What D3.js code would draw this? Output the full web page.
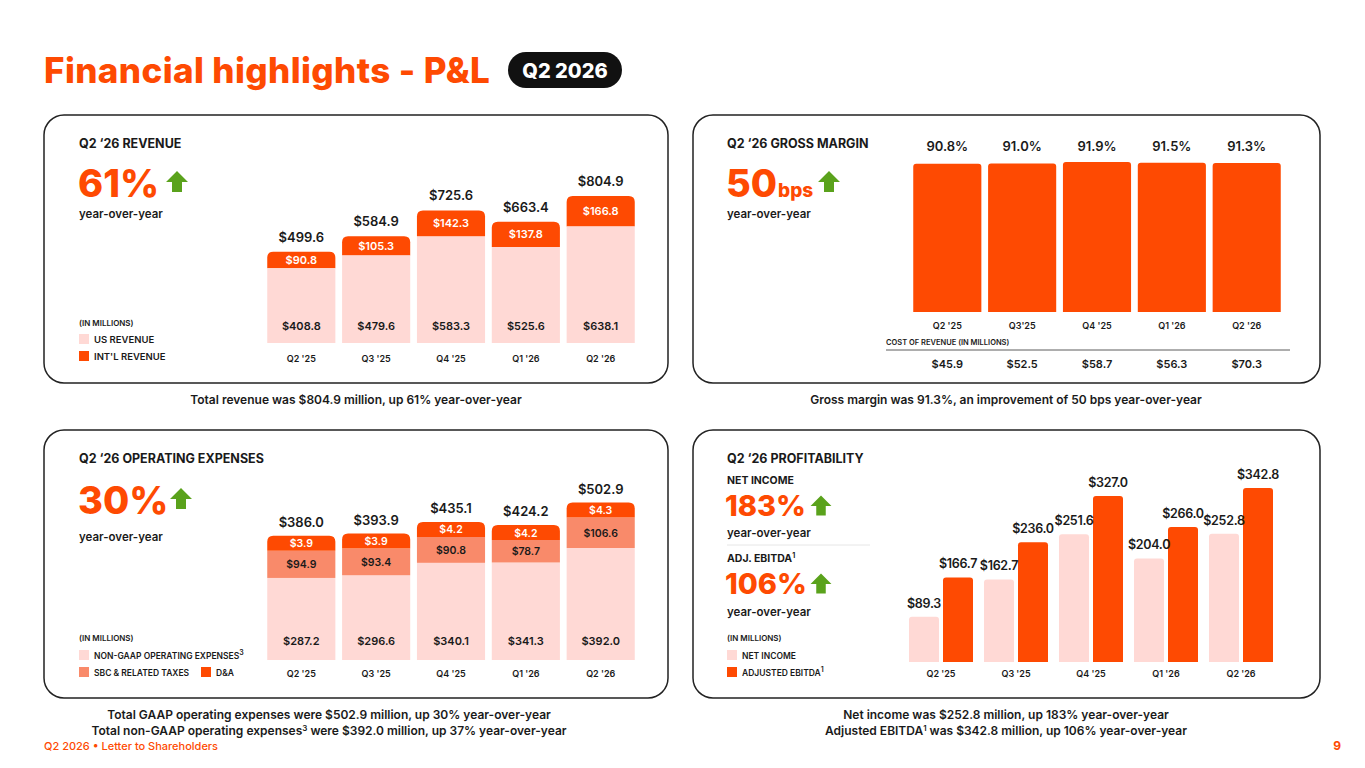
<!DOCTYPE html>
<html><head><meta charset="utf-8">
<script src="https://cdn.jsdelivr.net/npm/d3@7"></script>
<style>body{margin:0;background:#fff}svg{display:block;font-family:Inter,"Open Sans",sans-serif}</style>
</head><body>
<svg id="c" width="1365" height="768"></svg>
<script>
const quarters=["Q2 '25","Q3 '25","Q4 '25","Q1 '26","Q2 '26"];
const gmQuarters=["Q2 '25","Q3'25","Q4 '25","Q1 '26","Q2 '26"];
const usRevenue=[408.8,479.6,583.3,525.6,638.1];
const intlRevenue=[90.8,105.3,142.3,137.8,166.8];
const totalRevenue=[499.6,584.9,725.6,663.4,804.9];
const grossMargin=[90.8,91.0,91.9,91.5,91.3];
const costOfRevenue=[45.9,52.5,58.7,56.3,70.3];
const nonGaapOpex=[287.2,296.6,340.1,341.3,392.0];
const sbc=[94.9,93.4,90.8,78.7,106.6];
const da=[3.9,3.9,4.2,4.2,4.3];
const totalOpex=[386.0,393.9,435.1,424.2,502.9];
const netIncome=[89.3,162.7,251.6,204.0,252.8];
const adjEbitda=[166.7,236.0,327.0,266.0,342.8];

const OR="#fe4a02",PK="#ffd9d5",SA="#f98a6a",GR="#5aa21c",TX="#1a1a1a";
const svg=d3.select("#c");
function t(x,y,s,o={}){return svg.append("text").attr("x",x).attr("y",y).text(s)
 .attr("font-size",o.fs||11).attr("font-weight",o.fw||700).attr("fill",o.c||TX)
 .attr("text-anchor",o.a||"start").attr("letter-spacing",o.ls||0);}
function arrow(x,y,s=1){svg.append("path").attr("transform",`translate(${x},${y}) scale(${s})`)
 .attr("d","M0,-11 L11,0 L5,0 L5,10 L-5,10 L-5,0 L-11,0 Z").attr("fill",GR);}
function panel(x,y,w,h){svg.append("rect").attr("x",x).attr("y",y).attr("width",w).attr("height",h)
 .attr("rx",20).attr("fill","none").attr("stroke","#222").attr("stroke-width",1.5);}
function sup(txtSel,s){txtSel.append("tspan").attr("font-size",7).attr("dy",-4).text(s);}

// title
t(44,83,"Financial highlights - P&L",{fs:35,fw:800,c:OR,ls:0.4});
svg.append("rect").attr("x",508).attr("y",52).attr("width",114).attr("height",36).attr("rx",18).attr("fill","#111");
t(565,78,"Q2 2026",{fs:20,fw:800,c:"#fff",a:"middle"});

panel(44,115,624,268);panel(693,115,627,268);panel(44,430,624,268);panel(693,430,627,268);

// ---- Revenue
t(79,148,"Q2 ‘26 REVENUE",{fs:12.5});
t(78,197,"61%",{fs:38,fw:800,c:OR});
arrow(177,182);
t(79,218,"year-over-year",{fs:11.5,fw:600});
t(79,326,"(IN MILLIONS)",{fs:8,fw:600});
svg.append("rect").attr("x",79).attr("y",334).attr("width",10).attr("height",10).attr("fill",PK);
t(94,343,"US REVENUE",{fs:9.5,fw:600});
svg.append("rect").attr("x",79).attr("y",351).attr("width",10).attr("height",10).attr("fill",OR);
t(94,360,"INT'L REVENUE",{fs:9.5,fw:600});
{
 const x=d3.scaleBand().domain(quarters).range([263.5,638.5]).paddingInner(0.09).paddingOuter(0.05);
 const y=d3.scaleLinear().domain([0,804.9]).range([343,196]);
 quarters.forEach((q,i)=>{
  const bx=x(q),bw=x.bandwidth(),cx=bx+bw/2;
  svg.append("path").attr("d",roundTop(bx,y(totalRevenue[i]),bw,y(usRevenue[i])-y(totalRevenue[i]),6)).attr("fill",OR);
  svg.append("rect").attr("x",bx).attr("y",y(usRevenue[i])).attr("width",bw).attr("height",343-y(usRevenue[i])).attr("fill",PK);
  t(cx,(y(totalRevenue[i])+y(usRevenue[i]))/2+4,"$"+intlRevenue[i].toFixed(1),{fs:11,fw:600,c:"#fff",a:"middle"});
  t(cx,330,"$"+usRevenue[i].toFixed(1),{fs:11,fw:600,a:"middle"});
  t(cx,y(totalRevenue[i])-10,"$"+totalRevenue[i].toFixed(1),{fs:13,fw:600,a:"middle"});
  t(cx,362,q,{fs:9,fw:600,a:"middle"});
 });
}
t(356,404,"Total revenue was $804.9 million, up 61% year-over-year",{fs:12,fw:600,a:"middle"});

// ---- Gross margin
t(727,148,"Q2 ‘26 GROSS MARGIN",{fs:12.5});
t(726,197,"50",{fs:38,fw:800,c:OR}).append("tspan").attr("font-size",19).attr("dx",1).text("bps");
arrow(829,182);
t(727,218,"year-over-year",{fs:11.5,fw:600});
{
 const x=d3.scaleBand().domain(gmQuarters).range([909.5,1284.5]).paddingInner(0.09).paddingOuter(0.05);
 const y=d3.scaleLinear().domain([0,91.9]).range([312,162]);
 gmQuarters.forEach((q,i)=>{
  const bx=x(q),bw=x.bandwidth(),cx=bx+bw/2;
  svg.append("path").attr("d",roundTop(bx,y(grossMargin[i]),bw,312-y(grossMargin[i]),3)).attr("fill",OR);
  t(cx,151,grossMargin[i].toFixed(1)+"%",{fs:13,fw:600,a:"middle"});
  t(cx,329,q,{fs:9,fw:600,a:"middle"});
  t(cx,368,"$"+costOfRevenue[i].toFixed(1),{fs:11,fw:600,a:"middle"});
 });
 t(886,345,"COST OF REVENUE (IN MILLIONS)",{fs:7.5,fw:600});
 svg.append("line").attr("x1",886).attr("x2",1290).attr("y1",350).attr("y2",350).attr("stroke","#333").attr("stroke-width",0.8);
}
t(1006,404,"Gross margin was 91.3%, an improvement of 50 bps year-over-year",{fs:12,fw:600,a:"middle"});

// ---- Opex
t(79,463,"Q2 ‘26 OPERATING EXPENSES",{fs:12.5});
t(78,514,"30%",{fs:38,fw:800,c:OR});
arrow(181,499);
t(79,541,"year-over-year",{fs:11.5,fw:600});
t(79,641,"(IN MILLIONS)",{fs:8,fw:600});
svg.append("rect").attr("x",79).attr("y",650).attr("width",10).attr("height",10).attr("fill",PK);
sup(t(94,659,"NON-GAAP OPERATING EXPENSES",{fs:8.5,fw:600}),"3");
svg.append("rect").attr("x",79).attr("y",667).attr("width",10).attr("height",10).attr("fill",SA);
t(94,676,"SBC & RELATED TAXES",{fs:8.5,fw:600});
svg.append("rect").attr("x",201).attr("y",667).attr("width",10).attr("height",10).attr("fill",OR);
t(216,676,"D&A",{fs:8.5,fw:600});
{
 const x=d3.scaleBand().domain(quarters).range([263.5,638.5]).paddingInner(0.09).paddingOuter(0.05);
 const y=d3.scaleLinear().domain([0,392]).range([660,548]);
 const h=v=>660-y(v);
 quarters.forEach((q,i)=>{
  const bx=x(q),bw=x.bandwidth(),cx=bx+bw/2;
  const y1=660-h(nonGaapOpex[i]),y2=y1-h(sbc[i]),y3=y2-Math.max(h(da[i]),15);
  svg.append("rect").attr("x",bx).attr("y",y1).attr("width",bw).attr("height",660-y1).attr("fill",PK);
  svg.append("rect").attr("x",bx).attr("y",y2).attr("width",bw).attr("height",y1-y2).attr("fill",SA);
  svg.append("path").attr("d",roundTop(bx,y3,bw,y2-y3,6)).attr("fill",OR);
  t(cx,(y3+y2)/2+4,"$"+da[i].toFixed(1),{fs:10.5,fw:600,c:"#fff",a:"middle"});
  t(cx,(y1+y2)/2+4,"$"+sbc[i].toFixed(1),{fs:10.5,fw:600,a:"middle"});
  t(cx,645,"$"+nonGaapOpex[i].toFixed(1),{fs:11,fw:600,a:"middle"});
  t(cx,y3-9,"$"+totalOpex[i].toFixed(1),{fs:13,fw:600,a:"middle"});
  t(cx,677,q,{fs:9,fw:600,a:"middle"});
 });
}
t(329,719,"Total GAAP operating expenses were $502.9 million, up 30% year-over-year",{fs:12,fw:600,a:"middle"});
{const s=t(329,735,"Total non-GAAP operating expenses",{fs:12,fw:600,a:"middle"});
 s.append("tspan").attr("font-size",8).attr("dy",-4).text("3");
 s.append("tspan").attr("dy",4).text(" were $392.0 million, up 37% year-over-year");}

// ---- Profitability
t(727,463,"Q2 ‘26 PROFITABILITY",{fs:12.5});
t(727,484,"NET INCOME",{fs:10.5});
t(725,516,"183%",{fs:29,fw:800,c:OR});
arrow(821,506,0.95);
t(727,537,"year-over-year",{fs:11.5,fw:600});
svg.append("line").attr("x1",727).attr("x2",870).attr("y1",545).attr("y2",545).attr("stroke","#e6e6e6");
sup(t(727,562,"ADJ. EBITDA",{fs:10.5}),"1");
t(725,594,"106%",{fs:29,fw:800,c:OR});
arrow(821,584,0.95);
t(727,616,"year-over-year",{fs:11.5,fw:600});
t(727,641,"(IN MILLIONS)",{fs:8,fw:600});
svg.append("rect").attr("x",727).attr("y",650).attr("width",10).attr("height",10).attr("fill",PK);
t(742,659,"NET INCOME",{fs:8.5,fw:600});
svg.append("rect").attr("x",727).attr("y",667).attr("width",10).attr("height",10).attr("fill",OR);
sup(t(742,676,"ADJUSTED EBITDA",{fs:8.5,fw:600}),"1");
{
 const x=d3.scaleBand().domain(quarters).range([903.5,1278.5]).paddingInner(0).paddingOuter(0);
 const y=d3.scaleLinear().domain([0,342.8]).range([662,488]);
 quarters.forEach((q,i)=>{
  const c=x(q)+x.bandwidth()/2, bw=30;
  const nx=c-bw-2, ex=c+2;
  svg.append("path").attr("d",roundTop(nx,y(netIncome[i]),bw,662-y(netIncome[i]),3)).attr("fill",PK);
  svg.append("path").attr("d",roundTop(ex,y(adjEbitda[i]),bw,662-y(adjEbitda[i]),3)).attr("fill",OR);
  t(nx+bw/2,y(netIncome[i])-9,"$"+netIncome[i].toFixed(1),{fs:12.5,fw:600,a:"middle",ls:-0.3});
  t(ex+bw/2,y(adjEbitda[i])-9,"$"+adjEbitda[i].toFixed(1),{fs:12.5,fw:600,a:"middle",ls:-0.3});
  t(c,677,q,{fs:9,fw:600,a:"middle"});
 });
}
t(1006,719,"Net income was $252.8 million, up 183% year-over-year",{fs:12,fw:600,a:"middle"});
{const s=t(1006,735,"Adjusted EBITDA",{fs:12,fw:600,a:"middle"});
 s.append("tspan").attr("font-size",8).attr("dy",-4).text("1");
 s.append("tspan").attr("dy",4).text(" was $342.8 million, up 106% year-over-year");}

t(44,750,"Q2 2026 • Letter to Shareholders",{fs:11,fw:500,c:OR});
t(1341,750,"9",{fs:12,fw:700,c:OR,a:"end"});

function roundTop(x,y,w,h,r){r=Math.min(r,h,w/2);
 return `M${x},${y+h}V${y+r}Q${x},${y} ${x+r},${y}H${x+w-r}Q${x+w},${y} ${x+w},${y+r}V${y+h}Z`;}
</script>
</body></html>
